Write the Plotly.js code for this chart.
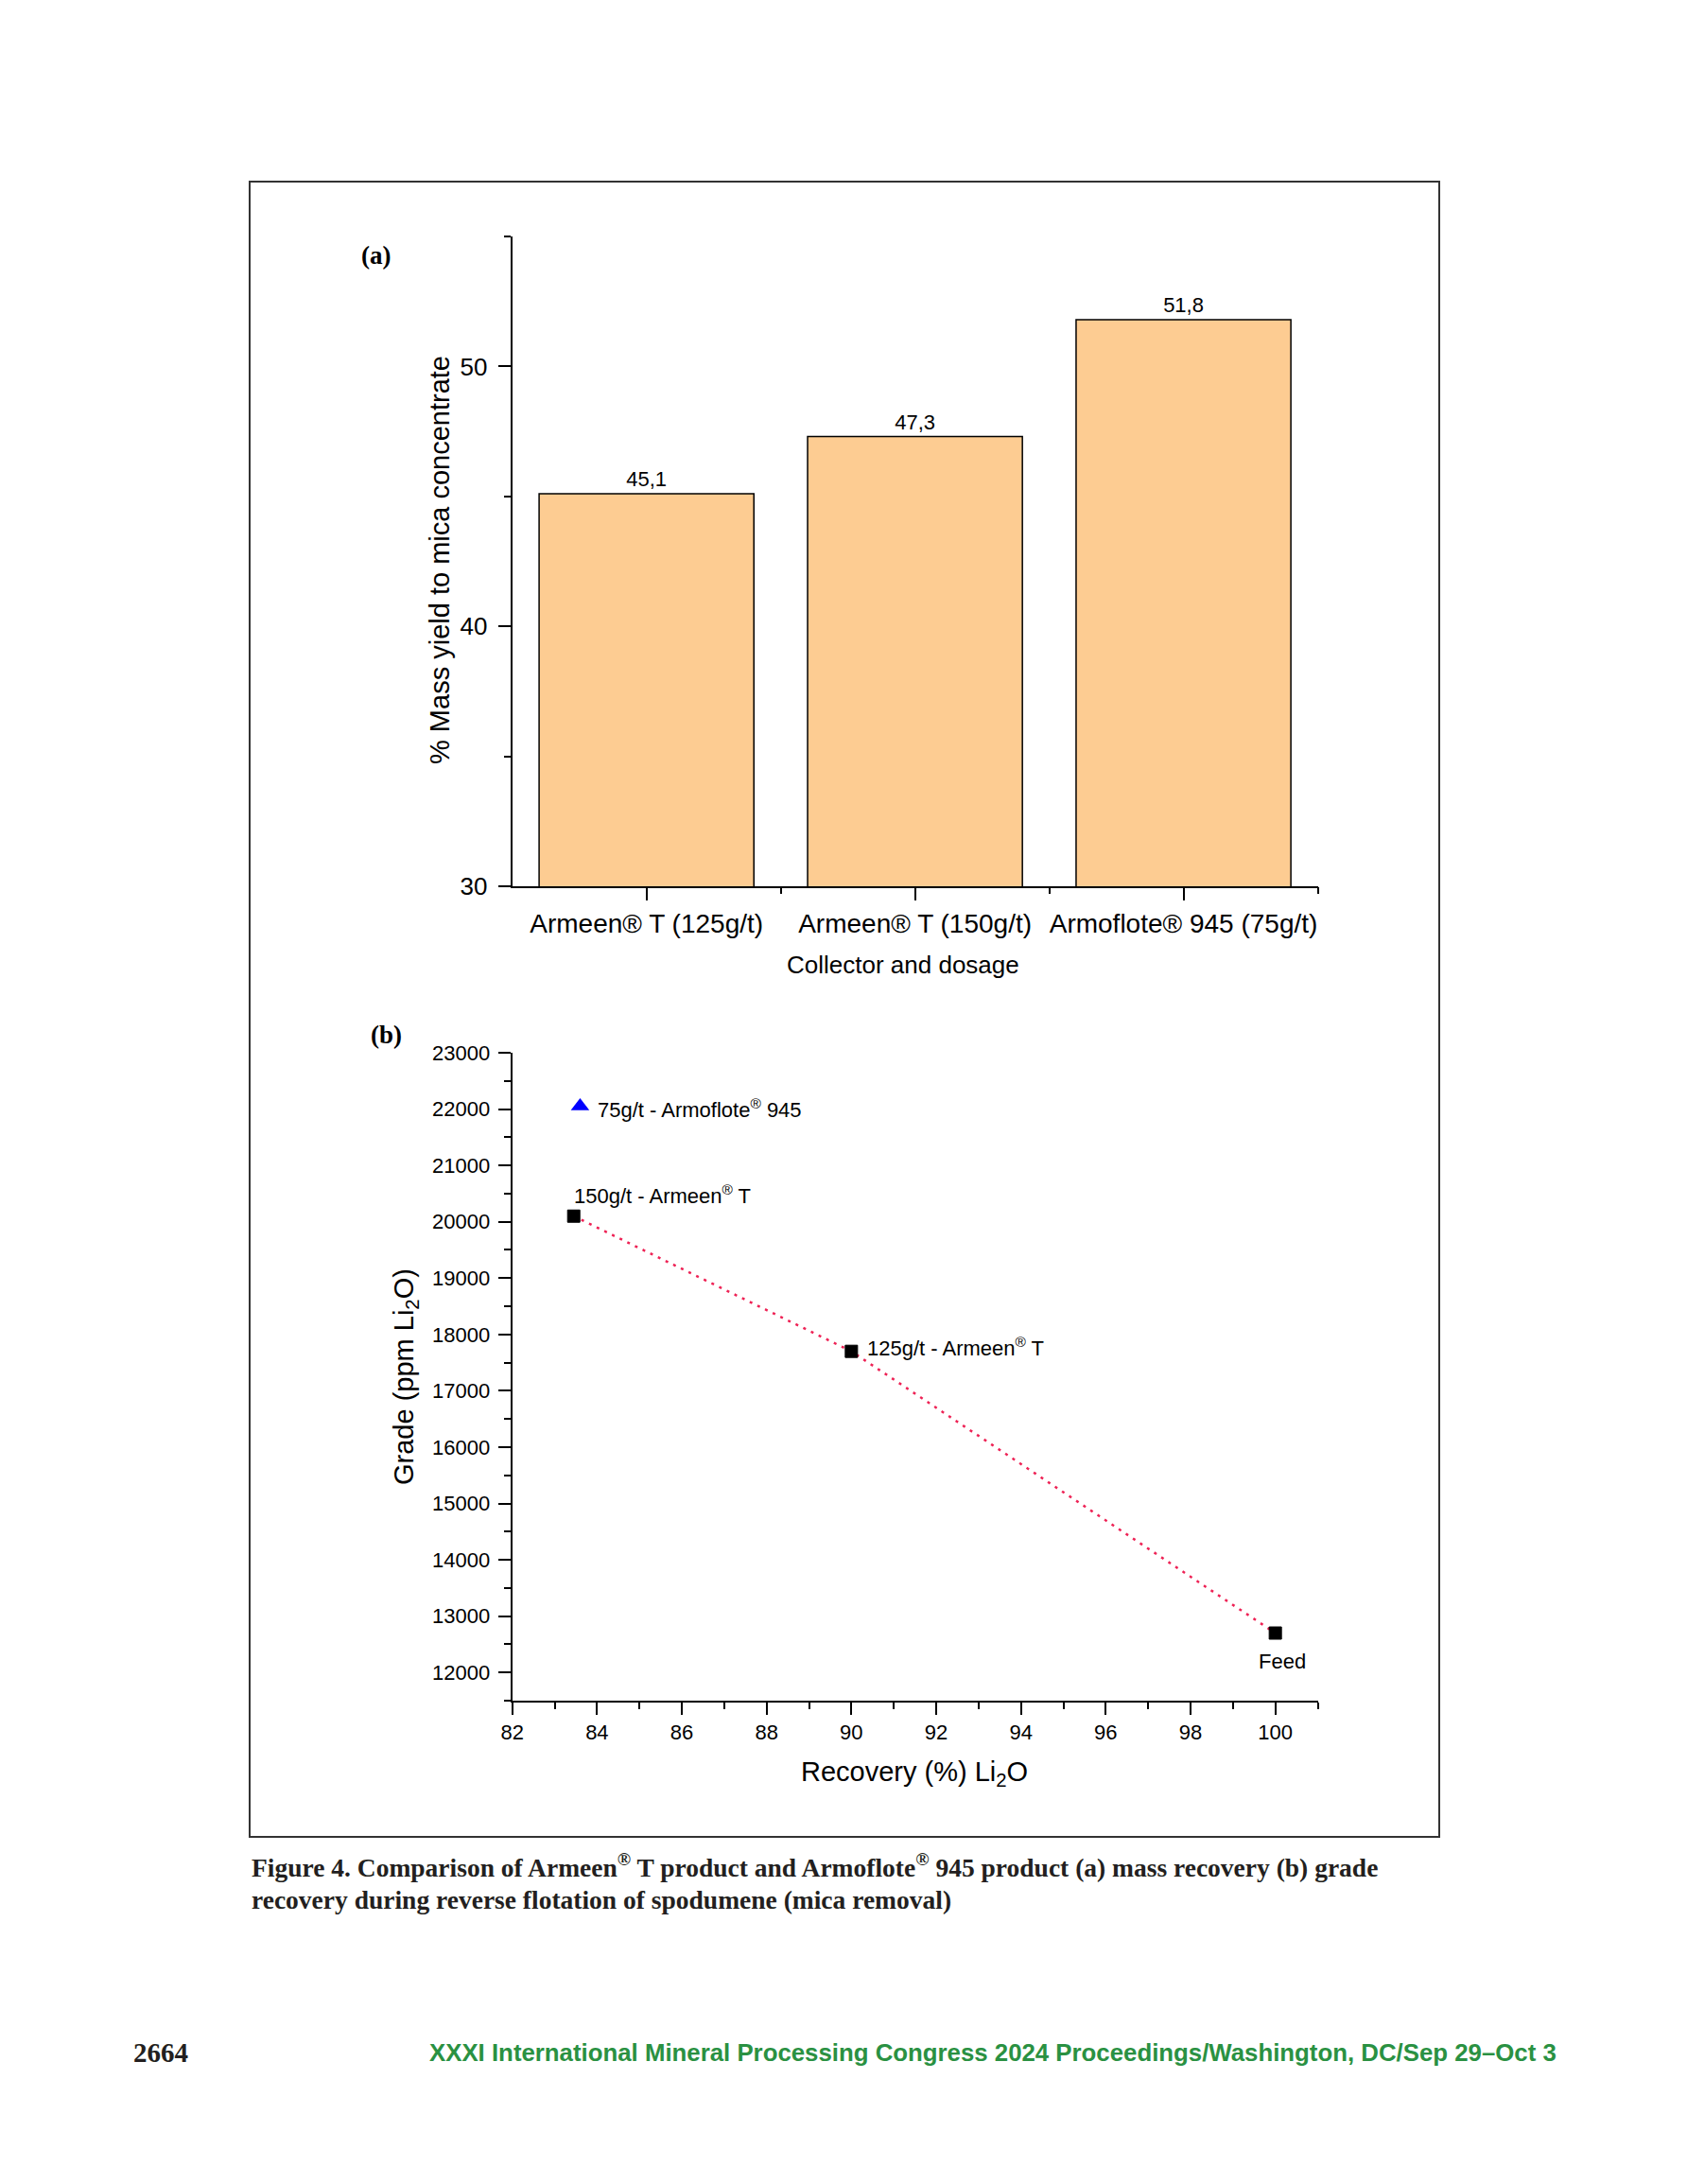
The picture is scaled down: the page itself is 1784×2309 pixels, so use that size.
<!DOCTYPE html>
<html>
<head>
<meta charset="utf-8">
<script src="https://cdn.plot.ly/plotly-3.0.1.min.js"></script>
<style>
html,body{margin:0;padding:0;background:#fff;}
#chart{width:1784px;height:2309px;}
</style>
</head>
<body>
<div id="chart"></div>
<script>
// ---------- DATA ----------
const categories = ['Armeen® T (125g/t)', 'Armeen® T (150g/t)', 'Armoflote® 945 (75g/t)'];
const massYield = [45.1, 47.3, 51.8];

const armeenRecovery = [83.45, 90.0, 100.0];
const armeenGrade = [20100, 17700, 12700];
const armeenLabels = ['150g/t - Armeen<sup>®</sup> T', '125g/t - Armeen<sup>®</sup> T', 'Feed'];

const armofloteRecovery = [83.6];
const armofloteGrade = [22050];
const armofloteLabels = ['75g/t - Armoflote<sup>®</sup> 945'];

// ---------- LAYOUT HELPERS ----------
const W = 1784, H = 2309;
const px = v => v / W;
const py = v => 1 - v / H;
const SANS = 'Liberation Sans, Arial, sans-serif';
const SERIF = 'Liberation Serif, Times New Roman, serif';

// label offsets (style only)
const armeenOffsets = [
  {xanchor: 'left', xshift: -2, yshift: 23},
  {xanchor: 'left', xshift: 15, yshift: 5},
  {xanchor: 'center', xshift: 7, yshift: -30}
];
const armofloteOffsets = [{xanchor: 'left', xshift: 17, yshift: -2}];

const traces = [
  {
    type: 'bar',
    x: categories,
    y: massYield,
    xaxis: 'x', yaxis: 'y',
    width: 0.8,
    marker: {color: '#FDCC92', line: {color: '#000', width: 1.5}},
    text: massYield.map(v => v.toFixed(1).replace('.', ',')),
    textposition: 'outside',
    textfont: {family: SANS, size: 22, color: '#000'},
    cliponaxis: false,
    showlegend: false,
    hoverinfo: 'skip'
  },
  {
    type: 'scatter', x: [], y: [], xaxis: 'x3', yaxis: 'y',
    showlegend: false, hoverinfo: 'skip'
  },
  {
    type: 'scatter',
    mode: 'lines+markers',
    x: armeenRecovery,
    y: armeenGrade,
    xaxis: 'x2', yaxis: 'y2',
    line: {color: '#ee2255', width: 2.5, dash: '3px,6px'},
    marker: {symbol: 'square', size: 13, color: '#000', line: {color: '#000', width: 1}},
    showlegend: false,
    cliponaxis: false,
    hoverinfo: 'skip'
  },
  {
    type: 'scatter',
    mode: 'markers',
    x: armofloteRecovery,
    y: armofloteGrade,
    xaxis: 'x2', yaxis: 'y2',
    marker: {symbol: 'triangle-up', size: 17, color: '#0000ff', line: {width: 0}},
    showlegend: false,
    cliponaxis: false,
    hoverinfo: 'skip'
  }
];

const axisCommon = {
  showline: true, linecolor: '#000', linewidth: 2,
  ticks: 'outside', ticklen: 13, tickwidth: 2, tickcolor: '#000',
  showgrid: false, zeroline: false, fixedrange: true
};

const layout = {
  width: W, height: H,
  margin: {l: 0, r: 0, t: 0, b: 0},
  paper_bgcolor: '#fff', plot_bgcolor: 'rgba(0,0,0,0)',
  font: {family: SANS, color: '#000'},
  showlegend: false,
  xaxis: Object.assign({}, axisCommon, {
    domain: [px(541.7), px(1393.5)],
    anchor: 'y',
    type: 'category',
    range: [-0.5, 2.5],
    tickfont: {family: SANS, size: 28, color: '#000'},
    ticklabelstandoff: 0
  }),
  xaxis3: {
    overlaying: 'x', anchor: 'y', type: 'linear',
    range: [-0.5, 2.5],
    tickvals: [0.5, 1.5, 2.5],
    ticks: 'outside', ticklen: 7, tickwidth: 2, tickcolor: '#000',
    showticklabels: false, showline: false, showgrid: false, zeroline: false
  },
  yaxis: Object.assign({}, axisCommon, {
    domain: [py(937), py(250)],
    anchor: 'x',
    range: [30, 55],
    tick0: 30, dtick: 10,
    minor: {dtick: 5, tick0: 30, ticks: 'outside', ticklen: 7, tickwidth: 2, tickcolor: '#000', showgrid: false},
    tickfont: {family: SANS, size: 26, color: '#000'},
    ticklabelstandoff: 6
  }),
  xaxis2: Object.assign({}, axisCommon, {
    domain: [px(541.7), px(1393.5)],
    anchor: 'y2',
    range: [82, 101],
    tick0: 82, dtick: 2,
    minor: {dtick: 1, tick0: 82, ticks: 'outside', ticklen: 7, tickwidth: 2, tickcolor: '#000', showgrid: false},
    tickfont: {family: SANS, size: 22, color: '#000'},
    ticklabelstandoff: 0
  }),
  yaxis2: Object.assign({}, axisCommon, {
    domain: [py(1798), py(1113)],
    anchor: 'x2',
    range: [11500, 23000],
    tick0: 12000, dtick: 1000,
    tickformat: 'd',
    minor: {dtick: 500, tick0: 11500, ticks: 'outside', ticklen: 7, tickwidth: 2, tickcolor: '#000', showgrid: false},
    tickfont: {family: SANS, size: 22, color: '#000'},
    ticklabelstandoff: 4
  }),
  shapes: [
    {type: 'rect', xref: 'paper', yref: 'paper',
     x0: px(264), x1: px(1522), y0: py(1942), y1: py(192),
     line: {color: '#333', width: 2}, fillcolor: 'rgba(0,0,0,0)'}
  ],
  annotations: []
};

const ann = layout.annotations;
// panel letters
ann.push({xref: 'paper', yref: 'paper', x: px(397), y: py(270), text: '<b>(a)</b>', showarrow: false,
  xanchor: 'center', yanchor: 'middle', font: {family: SERIF, size: 27, color: '#000'}});
ann.push({xref: 'paper', yref: 'paper', x: px(408), y: py(1094), text: '<b>(b)</b>', showarrow: false,
  xanchor: 'center', yanchor: 'middle', font: {family: SERIF, size: 27, color: '#000'}});
// axis titles
ann.push({xref: 'paper', yref: 'paper', x: px(465), y: py(592), text: '% Mass yield to mica concentrate',
  textangle: -90, showarrow: false, xanchor: 'center', yanchor: 'middle', font: {family: SANS, size: 29, color: '#000'}});
ann.push({xref: 'paper', yref: 'paper', x: px(955), y: py(1020), text: 'Collector and dosage',
  showarrow: false, xanchor: 'center', yanchor: 'middle', font: {family: SANS, size: 26, color: '#000'}});
ann.push({xref: 'paper', yref: 'paper', x: px(429), y: py(1456), text: 'Grade (ppm Li<sub>2</sub>O)',
  textangle: -90, showarrow: false, xanchor: 'center', yanchor: 'middle', font: {family: SANS, size: 29, color: '#000'}});
ann.push({xref: 'paper', yref: 'paper', x: px(967), y: py(1875), text: 'Recovery (%) Li<sub>2</sub>O',
  showarrow: false, xanchor: 'center', yanchor: 'middle', font: {family: SANS, size: 29, color: '#000'}});
// point labels
armeenRecovery.forEach((x, i) => {
  ann.push(Object.assign({xref: 'x2', yref: 'y2', x: x, y: armeenGrade[i], text: armeenLabels[i],
    showarrow: false, yanchor: 'middle', font: {family: SANS, size: 22, color: '#000'}}, armeenOffsets[i]));
});
armofloteRecovery.forEach((x, i) => {
  ann.push(Object.assign({xref: 'x2', yref: 'y2', x: x, y: armofloteGrade[i], text: armofloteLabels[i],
    showarrow: false, yanchor: 'middle', font: {family: SANS, size: 22, color: '#000'}}, armofloteOffsets[i]));
});
// caption
ann.push({xref: 'paper', yref: 'paper', x: px(264), y: py(1972), xanchor: 'left', yanchor: 'middle', showarrow: false,
  text: '<b>Figure 4. Comparison of Armeen<sup>®</sup> T product and Armoflote<sup>®</sup> 945 product (a) mass recovery (b) grade</b>',
  font: {family: SERIF, size: 27.5, color: '#231f20'}});
ann.push({xref: 'paper', yref: 'paper', x: px(264), y: py(2008), xanchor: 'left', yanchor: 'middle', showarrow: false,
  text: '<b>recovery during reverse flotation of spodumene (mica removal)</b>',
  font: {family: SERIF, size: 27.5, color: '#231f20'}});
// footer
ann.push({xref: 'paper', yref: 'paper', x: px(170), y: py(2170), xanchor: 'center', yanchor: 'middle', showarrow: false,
  text: '<b>2664</b>', font: {family: SERIF, size: 29, color: '#231f20'}});
ann.push({xref: 'paper', yref: 'paper', x: px(452), y: py(2170), xanchor: 'left', yanchor: 'middle', showarrow: false,
  text: '<b>XXXI International Mineral Processing Congress 2024 Proceedings/Washington, DC/Sep 29–Oct 3</b>',
  font: {family: SANS, size: 25.8, color: '#2a9142'}});

Plotly.newPlot('chart', traces, layout, {staticPlot: true, displayModeBar: false});
</script>
</body>
</html>
